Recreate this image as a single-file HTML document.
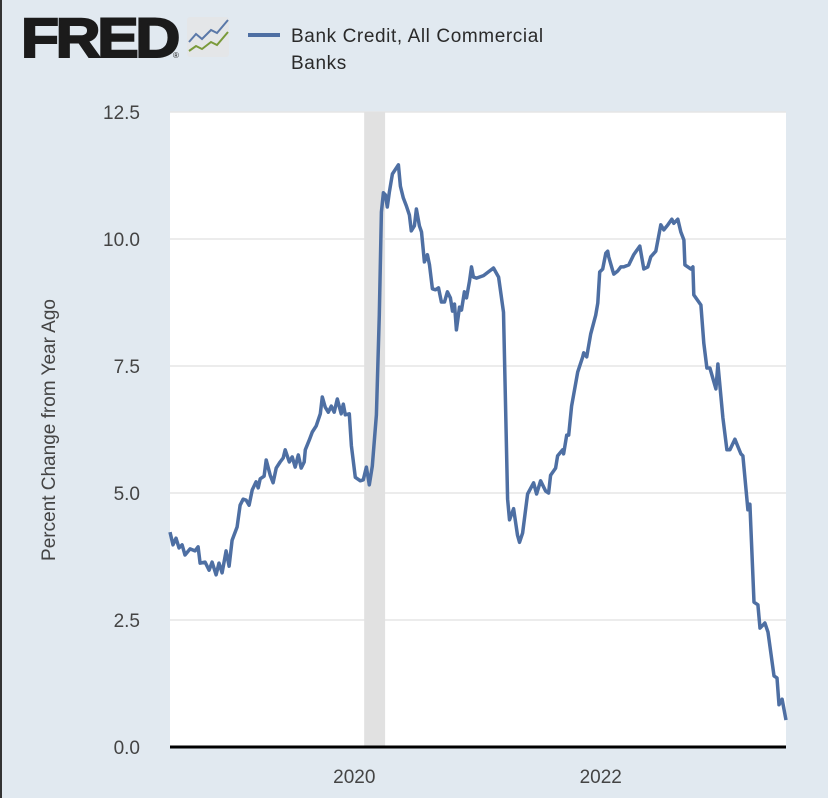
<!DOCTYPE html>
<html><head><meta charset="utf-8"><style>
body{margin:0;background:#e1e9f0;font-family:"Liberation Sans",sans-serif;}
#wrap{position:relative;width:828px;height:798px;overflow:hidden;background:#e1e9f0;}
</style></head><body>
<div id="wrap">
<svg id="chart" width="828" height="798">
 <rect x="0" y="0" width="2" height="798" fill="#333"/>
 <g>
  <text x="21" y="57" font-size="56" font-weight="bold" fill="#1b1b1b" stroke="#1b1b1b" stroke-width="2" font-family="Liberation Sans, sans-serif" letter-spacing="-3" textLength="156" lengthAdjust="spacingAndGlyphs">FRED</text>
  <text x="173" y="58" font-size="8" fill="#1b1b1b">®</text>
  <rect x="187" y="17" width="42" height="40" rx="3" fill="#e4e6e8"/>
  <polyline points="189,42 196,34 202,39 211,30 217,33 228,20" fill="none" stroke="#5a78a8" stroke-width="2"/>
  <polyline points="189,51 196,46 202,49 211,42 217,45 228,32" fill="none" stroke="#7a9a3a" stroke-width="2"/>
 </g>
 <line x1="248" y1="35" x2="280" y2="35" stroke="#4e6fa3" stroke-width="4"/>
 <text x="291" y="42" font-size="19" fill="#2a2a2a" letter-spacing="0.6">Bank Credit, All Commercial</text>
 <text x="291" y="69" font-size="19" fill="#2a2a2a" letter-spacing="0.6">Banks</text>
 <rect x="170" y="112" width="616" height="635" fill="#fff"/>
 <g id="grid"></g><g id="rec"></g><g id="ticks"></g>
 <text transform="translate(55,430) rotate(-90)" text-anchor="middle" font-size="19" fill="#444">Percent Change from Year Ago</text>
 <path id="series" fill="none" stroke="#4e6fa3" stroke-width="3.5" stroke-linejoin="round"/>
 <line x1="170" y1="747" x2="786" y2="747" stroke="#000" stroke-width="3"/>
</svg>
</div>
<script>
const yTicks=[0,2.5,5,7.5,10,12.5];
const yTickLabels=["0.0","2.5","5.0","7.5","10.0","12.5"];
const xTicks=[2020,2022];
const xTickLabels=["2020","2022"];
const recessions=[[2020.08,2020.25]];
const dates=[2018.504,2018.528,2018.553,2018.577,2018.602,2018.626,2018.667,2018.707,2018.732,2018.748,2018.789,2018.821,2018.846,2018.878,2018.902,2018.927,2018.959,2018.984,2019.008,2019.049,2019.073,2019.098,2019.122,2019.146,2019.171,2019.203,2019.220,2019.236,2019.268,2019.285,2019.317,2019.341,2019.366,2019.398,2019.423,2019.439,2019.472,2019.496,2019.520,2019.545,2019.569,2019.593,2019.602,2019.634,2019.659,2019.691,2019.724,2019.740,2019.764,2019.789,2019.813,2019.837,2019.862,2019.894,2019.911,2019.927,2019.959,2019.976,2020.008,2020.049,2020.073,2020.098,2020.122,2020.146,2020.179,2020.203,2020.220,2020.236,2020.252,2020.268,2020.285,2020.309,2020.358,2020.374,2020.398,2020.423,2020.447,2020.463,2020.488,2020.504,2020.528,2020.545,2020.569,2020.593,2020.610,2020.634,2020.659,2020.683,2020.707,2020.732,2020.756,2020.780,2020.797,2020.813,2020.829,2020.854,2020.870,2020.894,2020.911,2020.935,2020.951,2020.967,2020.992,2021.049,2021.130,2021.171,2021.211,2021.244,2021.260,2021.293,2021.325,2021.341,2021.366,2021.407,2021.455,2021.480,2021.512,2021.553,2021.577,2021.593,2021.634,2021.650,2021.691,2021.699,2021.724,2021.740,2021.764,2021.780,2021.813,2021.854,2021.862,2021.886,2021.919,2021.959,2021.976,2021.992,2022.016,2022.041,2022.057,2022.065,2022.098,2022.106,2022.138,2022.163,2022.187,2022.228,2022.268,2022.317,2022.350,2022.382,2022.407,2022.447,2022.488,2022.512,2022.545,2022.577,2022.593,2022.626,2022.650,2022.675,2022.683,2022.732,2022.748,2022.756,2022.813,2022.837,2022.862,2022.886,2022.935,2022.951,2022.992,2023.024,2023.049,2023.089,2023.114,2023.138,2023.154,2023.195,2023.211,2023.244,2023.276,2023.293,2023.333,2023.358,2023.407,2023.431,2023.447,2023.472,2023.504];
const values=[4.23,3.98,4.11,3.92,3.98,3.78,3.90,3.86,3.94,3.62,3.64,3.48,3.64,3.39,3.62,3.43,3.86,3.56,4.07,4.33,4.76,4.88,4.86,4.76,5.06,5.22,5.10,5.28,5.33,5.65,5.35,5.20,5.49,5.61,5.69,5.85,5.61,5.71,5.51,5.75,5.49,5.61,5.85,6.04,6.20,6.32,6.56,6.89,6.69,6.59,6.71,6.59,6.85,6.56,6.75,6.54,6.56,5.93,5.31,5.24,5.26,5.51,5.16,5.53,6.54,8.50,10.53,10.91,10.87,10.63,10.93,11.28,11.46,11.04,10.81,10.65,10.47,10.16,10.26,10.59,10.26,10.14,9.55,9.69,9.49,9.02,9.00,9.04,8.76,8.76,8.96,8.84,8.58,8.72,8.21,8.66,8.60,8.96,8.84,9.17,9.45,9.25,9.23,9.28,9.43,9.25,8.56,4.88,4.47,4.69,4.17,4.03,4.21,4.98,5.20,4.98,5.24,5.04,5.00,5.35,5.49,5.73,5.85,5.77,6.14,6.14,6.71,6.93,7.38,7.68,7.76,7.68,8.13,8.50,8.74,9.35,9.41,9.72,9.76,9.65,9.37,9.31,9.37,9.45,9.45,9.49,9.69,9.86,9.41,9.45,9.65,9.76,10.28,10.18,10.28,10.39,10.31,10.39,10.14,9.98,9.49,9.41,9.45,8.90,8.70,7.95,7.46,7.46,7.05,7.54,6.48,5.85,5.85,6.06,5.91,5.77,5.73,4.67,4.78,2.85,2.80,2.34,2.44,2.26,1.40,1.36,0.83,0.94,0.53];

const X0=170,X1=786,Y0=747,Y1=112,D0=2018.504,D1=2023.504,V0=0,V1=12.5;
function xs(d){return X0+(d-D0)/(D1-D0)*(X1-X0);}
function ys(v){return Y0-(v-V0)/(V1-V0)*(Y0-Y1);}
const NS="http://www.w3.org/2000/svg";
const grid=document.getElementById('grid'),ticks=document.getElementById('ticks'),rec=document.getElementById('rec');
yTicks.forEach((t,i)=>{
 if(t>0){const l=document.createElementNS(NS,'line');
 l.setAttribute('x1',X0);l.setAttribute('x2',X1);l.setAttribute('y1',ys(t));l.setAttribute('y2',ys(t));
 l.setAttribute('stroke','#e6e6e6');l.setAttribute('stroke-width','1.5');
 
 
 grid.appendChild(l);}
 const tx=document.createElementNS(NS,'text');
 tx.setAttribute('x',140);tx.setAttribute('y',ys(t)+7);tx.setAttribute('text-anchor','end');
 tx.setAttribute('font-size','19');tx.setAttribute('fill','#444');tx.textContent=yTickLabels[i];
 
 
 ticks.appendChild(tx);
});
xTicks.forEach((t,i)=>{
 const tx=document.createElementNS(NS,'text');
 tx.setAttribute('x',xs(t));tx.setAttribute('y',783);tx.setAttribute('text-anchor','middle');
 tx.setAttribute('font-size','19');tx.setAttribute('fill','#444');tx.textContent=xTickLabels[i];
 
 
 ticks.appendChild(tx);
});
recessions.forEach(r=>{
 const rc=document.createElementNS(NS,'rect');
 rc.setAttribute('x',xs(r[0]));rc.setAttribute('width',xs(r[1])-xs(r[0]));
 rc.setAttribute('y',Y1);rc.setAttribute('height',Y0-Y1);rc.setAttribute('fill','#e1e1e1');
 
 
 rec.appendChild(rc);
});
let d='';
dates.forEach((t,i)=>{d+=(i?'L':'M')+xs(t).toFixed(1)+','+ys(values[i]).toFixed(1);});
document.getElementById('series').setAttribute('d',d);
</script>
</body></html>
